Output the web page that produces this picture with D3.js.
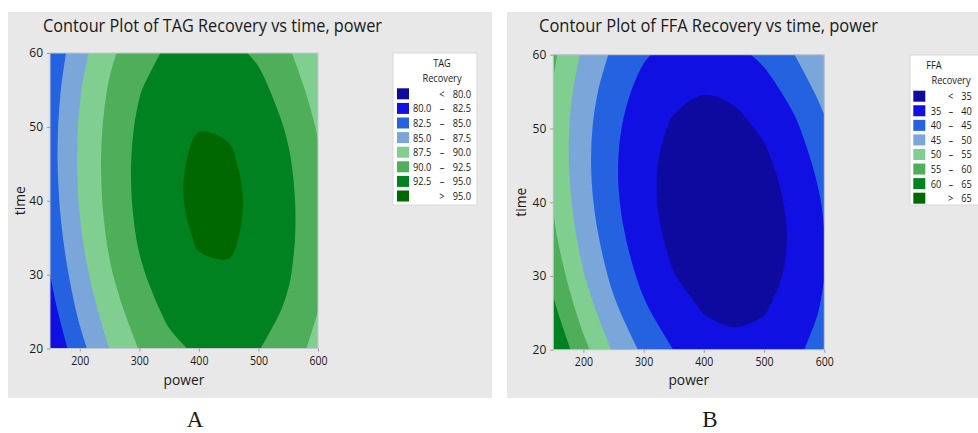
<!DOCTYPE html>
<html>
<head>
<meta charset="utf-8">
<script src="https://cdn.jsdelivr.net/npm/d3@7"></script>
<style>
  body { margin: 0; background: #fff; }
  text { font-family: "Open Sans", "Noto Sans", sans-serif; fill: #1a1a1a; }
</style>
</head>
<body>
<div id="chart"></div>
<script>
// grid nodes (power across, time up)
var powerVals = [150, 200, 250, 300, 350, 400, 450, 500, 550, 600];
var timeVals = [20, 25, 30, 35, 40, 45, 50, 55, 60];

// TAG recovery, one row per time value (20 -> 60)
var tagRecovery = [
  [80.08, 84.20, 87.53, 90.10, 91.89, 92.90, 93.14, 92.60, 91.29, 89.20],
  [81.43, 85.48, 88.76, 91.26, 92.99, 93.94, 94.12, 93.52, 92.14, 89.99],
  [82.50, 86.49, 89.71, 92.15, 93.81, 94.70, 94.82, 94.16, 92.72, 90.51],
  [83.29, 87.22, 90.37, 92.75, 94.35, 95.18, 95.24, 94.51, 93.02, 90.75],
  [83.80, 87.67, 90.76, 93.08, 94.62, 95.39, 95.38, 94.59, 93.04, 90.70],
  [84.03, 87.84, 90.87, 93.12, 94.60, 95.31, 95.24, 94.39, 92.77, 90.38],
  [83.98, 87.73, 90.70, 92.89, 94.31, 94.95, 94.82, 93.92, 92.23, 89.78],
  [83.66, 87.34, 90.25, 92.38, 93.73, 94.32, 94.12, 93.16, 91.41, 88.90],
  [83.05, 86.67, 89.52, 91.59, 92.88, 93.40, 93.15, 92.12, 90.32, 87.74]
];

// FFA recovery
var ffaRecovery = [
  [64.70, 56.48, 49.46, 43.94, 39.92, 37.40, 36.38, 36.86, 38.84, 42.32],
  [61.31, 53.03, 46.24, 40.96, 37.18, 34.90, 34.11, 34.83, 37.05, 40.77],
  [58.34, 50.30, 43.75, 38.71, 35.16, 33.12, 32.58, 33.53, 35.99, 39.94],
  [56.10, 48.30, 41.99, 37.19, 33.88, 32.07, 31.77, 32.96, 35.65, 39.85],
  [54.60, 47.03, 40.96, 36.39, 33.32, 31.76, 31.69, 33.12, 36.05, 40.48],
  [53.82, 46.49, 40.66, 36.33, 33.50, 32.17, 32.34, 34.01, 37.18, 41.85],
  [53.77, 46.68, 41.08, 37.00, 34.40, 33.31, 33.72, 35.63, 39.03, 43.94],
  [54.45, 47.59, 42.24, 38.39, 36.03, 35.18, 35.83, 37.97, 41.62, 46.76],
  [55.86, 49.24, 44.13, 40.51, 38.39, 37.78, 38.66, 41.05, 44.93, 50.32]
];

var tagLevels = [80, 82.5, 85, 87.5, 90, 92.5, 95];
var ffaLevels = [35, 40, 45, 50, 55, 60, 65];
var powerTicks = [200, 300, 400, 500, 600];
var timeTicks = [20, 30, 40, 50, 60];

var palette = ["#0e0aa0", "#1010e2", "#2462df", "#7ba6da", "#80ce90", "#4fae5a", "#008220", "#006800"];

var svg = d3.select("#chart").append("svg")
    .attr("width", 978)
    .attr("height", 433);

var SX = 0.88; // glyphs in the picture are a bit narrower than Open Sans

function label(g, x, y, s, size, anchor, sx) {
    return g.append("text")
        .attr("transform", "translate(" + x + "," + y + ") scale(" + (sx || 1) + ",1)")
        .attr("text-anchor", anchor || "start")
        .style("font-size", size + "px")
        .text(s);
}

createContour({
    id: "tag",
    panel: [8, 12, 484, 386],
    plot: [50, 318, 53, 348.5],
    title: "Contour Plot of TAG Recovery vs time, power",
    titleX: 43,
    values: tagRecovery,
    levels: tagLevels,
    fmt: d3.format(".1f"),
    legend: { x: 393, y: 53, w: 84, h: 152, cx: 442, nameX: 442, name: "TAG", sw: 397, row0: 88.3, step: 14.6, left: 413, dash: 442, right: 471 },
    timeX: 25,
    letter: "A", letterX: 195
});

createContour({
    id: "ffa",
    panel: [507, 12, 480, 386],
    plot: [553.3, 824.3, 54.7, 349.7],
    title: "Contour Plot of FFA Recovery vs time, power",
    titleX: 539,
    values: ffaRecovery,
    levels: ffaLevels,
    fmt: d3.format("d"),
    legend: { x: 910, y: 55, w: 80, h: 150, cx: 951, nameX: 934, name: "FFA", sw: 913.3, row0: 90.7, step: 14.57, left: 930.7, dash: 950.7, right: 971.7 },
    timeX: 526,
    letter: "B", letterX: 710
});

function createContour(o) {
    var n = powerVals.length, m = timeVals.length;

    svg.append("rect")
        .attr("x", o.panel[0]).attr("y", o.panel[1])
        .attr("width", o.panel[2]).attr("height", o.panel[3])
        .attr("fill", "#e8e8e8");

    var x = d3.scaleLinear().domain([150, 600]).range([o.plot[0], o.plot[1]]);
    var y = d3.scaleLinear().domain([20, 60]).range([o.plot[3], o.plot[2]]);

    // contour grid space -> data space (node i sits at i + 0.5)
    var gx = d3.scaleLinear().domain([0.5, n - 0.5]).range([powerVals[0], powerVals[n - 1]]);
    var gy = d3.scaleLinear().domain([0.5, m - 0.5]).range([timeVals[0], timeVals[m - 1]]);

    var contours = d3.contours()
        .size([n, m])
        .thresholds(o.levels)(d3.merge(o.values));

    var openCurve = d3.line()
        .x(function (p) { return x(gx(p[0])); })
        .y(function (p) { return y(gy(p[1])); })
        .curve(d3.curveCatmullRom.alpha(0.5));
    var closedCurve = d3.line()
        .x(function (p) { return x(gx(p[0])); })
        .y(function (p) { return y(gy(p[1])); })
        .curve(d3.curveCatmullRomClosed.alpha(0.5));

    function pt(p) { return x(gx(p[0])) + "," + y(gy(p[1])); }
    function onBorder(p) { return p[0] <= 0 || p[0] >= n || p[1] <= 0 || p[1] >= m; }
    function clamp(p) {
        return [Math.max(0.5, Math.min(n - 0.5, p[0])), Math.max(0.5, Math.min(m - 0.5, p[1]))];
    }

    // smooth the inner runs of a ring, keep the parts on the grid border straight
    function ringPath(ring) {
        var pts = ring.slice(0, -1);
        var b = pts.findIndex(onBorder);
        if (b < 0) return closedCurve(pts);
        pts = pts.slice(b).concat(pts.slice(0, b));
        var s = "", chain = [];
        function flush() {
            if (chain.length > 2) {
                var c = openCurve(chain);
                s += "L" + pt(chain[0]) + c.slice(c.search(/[CLQ]/));
            } else {
                chain.forEach(function (q) { s += "L" + pt(q); });
            }
            chain = [];
        }
        pts.forEach(function (p, i) {
            if (onBorder(p)) {
                flush();
                s += (i === 0 ? "M" : "L") + pt(clamp(p));
            } else {
                chain.push(p);
            }
        });
        flush();
        return s + "Z";
    }

    svg.append("clipPath").attr("id", "clip-" + o.id)
        .append("rect")
        .attr("x", o.plot[0]).attr("y", o.plot[2])
        .attr("width", o.plot[1] - o.plot[0]).attr("height", o.plot[3] - o.plot[2]);

    var plot = svg.append("g").attr("clip-path", "url(#clip-" + o.id + ")");

    plot.append("rect")
        .attr("x", o.plot[0]).attr("y", o.plot[2])
        .attr("width", o.plot[1] - o.plot[0]).attr("height", o.plot[3] - o.plot[2])
        .attr("fill", palette[0]);

    plot.selectAll("path.band")
        .data(contours)
        .enter().append("path")
        .attr("class", "band")
        .attr("fill-rule", "evenodd")
        .attr("fill", function (d, i) { return palette[i + 1]; })
        .attr("d", function (d) {
            var s = "";
            d.coordinates.forEach(function (poly) {
                poly.forEach(function (ring) { s += ringPath(ring); });
            });
            return s;
        });

    // frame
    svg.append("rect")
        .attr("x", o.plot[0]).attr("y", o.plot[2])
        .attr("width", o.plot[1] - o.plot[0]).attr("height", o.plot[3] - o.plot[2])
        .attr("fill", "none").attr("stroke", "#c4c8d0").attr("stroke-width", 1);

    // axes
    var xAxis = svg.append("g")
        .attr("transform", "translate(0," + o.plot[3] + ")")
        .call(d3.axisBottom(x).tickValues(powerTicks).tickSize(3).tickPadding(5));
    var yAxis = svg.append("g")
        .attr("transform", "translate(" + o.plot[0] + ",0)")
        .call(d3.axisLeft(y).tickValues(timeTicks).tickSize(3).tickPadding(4));

    [xAxis, yAxis].forEach(function (ax) {
        ax.select(".domain").remove();
        ax.selectAll("line").attr("stroke", "#9a9a9a");
        ax.selectAll("text")
            .style("font-size", "12px")
            .style("font-family", "\"Open Sans\", sans-serif")
            .attr("fill", "#1a1a1a");
    });
    xAxis.selectAll("text").attr("transform", "scale(" + SX + ",1)");

    // title and axis names
    svg.append("text")
        .attr("x", o.titleX).attr("y", 32)
        .attr("textLength", 339)
        .attr("lengthAdjust", "spacingAndGlyphs")
        .style("font-size", "18.5px")
        .text(o.title);

    label(svg, (o.plot[0] + o.plot[1]) / 2, 385, "power", 15, "middle", 0.92);
    svg.append("text")
        .attr("transform", "translate(" + o.timeX + "," + ((o.plot[2] + o.plot[3]) / 2) + ") rotate(-90) scale(0.92,1)")
        .attr("text-anchor", "middle")
        .style("font-size", "15px")
        .text("time");

    // legend
    var L = o.legend;
    var fs = 10.5;
    var lg = svg.append("g");
    lg.append("rect")
        .attr("x", L.x).attr("y", L.y).attr("width", L.w).attr("height", L.h)
        .attr("fill", "#fff").attr("stroke", "#d8d8d8");
    label(lg, L.nameX, L.y + 14, L.name, fs, "middle", SX);
    label(lg, L.cx, L.y + 29, "Recovery", fs, "middle", SX);

    palette.forEach(function (c, k) {
        var ry = L.row0 + k * L.step;
        lg.append("rect")
            .attr("x", L.sw).attr("y", ry).attr("width", 12).attr("height", 11)
            .attr("fill", c);
        var by = ry + 9.5;
        if (k === 0) {
            label(lg, L.dash, by, "<", fs, "middle", SX);
            label(lg, L.right, by, o.fmt(o.levels[0]), fs, "end", SX);
        } else if (k === palette.length - 1) {
            label(lg, L.dash, by, ">", fs, "middle", SX);
            label(lg, L.right, by, o.fmt(o.levels[o.levels.length - 1]), fs, "end", SX);
        } else {
            label(lg, L.left, by, o.fmt(o.levels[k - 1]), fs, "start", SX);
            label(lg, L.dash, by, "\u2013", fs, "middle", SX);
            label(lg, L.right, by, o.fmt(o.levels[k]), fs, "end", SX);
        }
    });

    // panel letter under the figure
    svg.append("text")
        .attr("x", o.letterX).attr("y", 427)
        .attr("text-anchor", "middle")
        .style("font-family", "\"Liberation Serif\", \"DejaVu Serif\", serif")
        .style("font-size", "23px")
        .text(o.letter);
}
</script>
</body>
</html>
